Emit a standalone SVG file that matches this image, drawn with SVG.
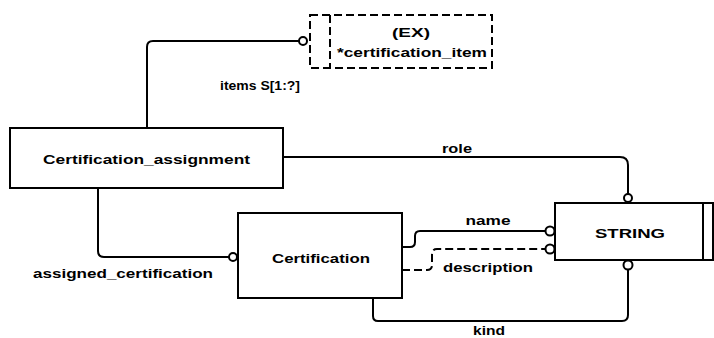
<svg xmlns="http://www.w3.org/2000/svg" width="714" height="338" viewBox="0 0 714 338">
<style>
.box{fill:#fff;stroke:#000;stroke-width:2}
.dbox{fill:#fff;stroke:#000;stroke-width:2;stroke-dasharray:8,4}
.ln{fill:none;stroke:#000;stroke-width:2}
.dl{fill:none;stroke:#000;stroke-width:2;stroke-dasharray:8,4}
.end{fill:#fff;stroke:#000;stroke-width:2}
text{font-family:"Liberation Sans",Arial,sans-serif;font-weight:bold;font-size:13px;fill:#000}
.c{text-anchor:middle}
</style>
<rect width="714" height="338" fill="#fff"/>
<g id="connectors">
<path class="ln" d="M147,128 V47 Q147,41 153,41 H299"/>
<circle class="end" cx="303" cy="41" r="4"/>
<path class="ln" d="M283,157 H620 Q628,157 628,165 V194"/>
<circle class="end" cx="628" cy="198" r="4"/>
<path class="ln" d="M98,188 V251 Q98,257 104,257 H229"/>
<circle class="end" cx="233" cy="257" r="4"/>
<path class="ln" d="M402,247 H410 Q415,247 415,242 V236 Q415,231 420,231 H546"/>
<path class="dl" d="M402,270 H427 Q432,270 432,265 V254 Q432,249 437,249 H546"/>
<path class="ln" d="M373,298 V316 Q373,321 378,321 H622 Q628,321 628,315 V269"/>
<text x="220" y="90" textLength="80" lengthAdjust="spacingAndGlyphs">items S[1:?]</text>
<text x="457" y="153" class="c" textLength="30" lengthAdjust="spacingAndGlyphs">role</text>
<text x="123" y="278" class="c" textLength="180" lengthAdjust="spacingAndGlyphs">assigned_certification</text>
<text x="488" y="225" class="c" textLength="45" lengthAdjust="spacingAndGlyphs">name</text>
<text x="488" y="272" class="c" textLength="90" lengthAdjust="spacingAndGlyphs">description</text>
<text x="489" y="335" class="c" textLength="32" lengthAdjust="spacingAndGlyphs">kind</text>
</g>
<g id="certification_item">
<rect class="dbox" x="310" y="15" width="182" height="53"/>
<line class="dl" x1="330" y1="15" x2="330" y2="68"/>
<text x="411" y="37" class="c" textLength="38" lengthAdjust="spacingAndGlyphs">(EX)</text>
<text x="412" y="57" class="c" textLength="150" lengthAdjust="spacingAndGlyphs">*certification_item</text>
</g>
<g id="certification_assignment">
<rect class="box" x="10" y="128" width="273" height="60"/>
<text x="146.5" y="164" class="c" textLength="207" lengthAdjust="spacingAndGlyphs">Certification_assignment</text>
</g>
<g id="certification">
<rect class="box" x="238" y="213" width="164" height="85"/>
<text x="321" y="263" class="c" textLength="98" lengthAdjust="spacingAndGlyphs">Certification</text>
</g>
<g id="string">
<rect class="box" x="555" y="203" width="158" height="57"/>
<line class="ln" x1="703" y1="203" x2="703" y2="260"/>
<text x="630" y="238" class="c" textLength="70" lengthAdjust="spacingAndGlyphs">STRING</text>
<circle class="end" cx="550" cy="231" r="4.5"/>
<circle class="end" cx="550" cy="249" r="4.5"/>
<circle class="end" cx="628" cy="265" r="4.5"/>
</g>
</svg>
